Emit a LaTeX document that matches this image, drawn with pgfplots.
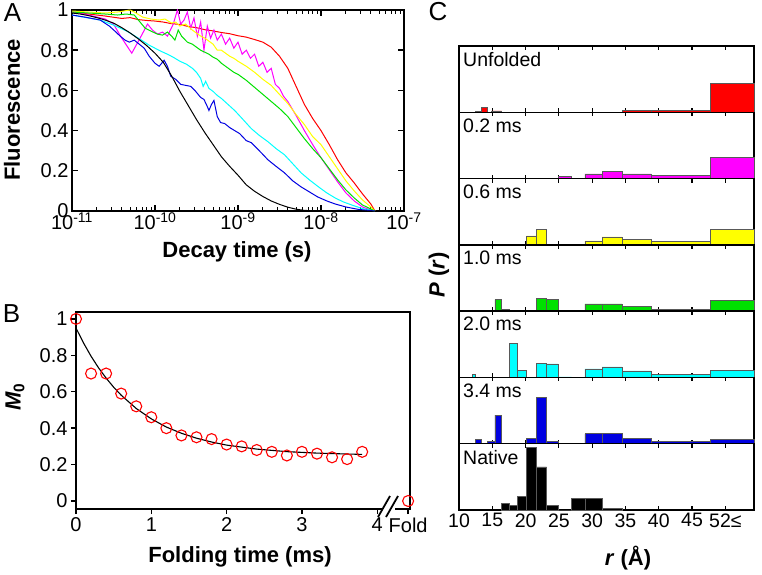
\documentclass[border=0pt]{standalone}
\usepackage{fontspec}
\setmainfont{Liberation Sans}
\usepackage{pgfplots}
\pgfplotsset{compat=1.18}

\definecolor{cRed}{RGB}{255,0,0}
\definecolor{cMag}{RGB}{255,0,255}
\definecolor{cYel}{RGB}{255,255,0}
\definecolor{cGrn}{RGB}{0,225,0}
\definecolor{cCyn}{RGB}{0,255,255}
\definecolor{cBlu}{RGB}{0,0,225}

\pgfplotsset{
  cpanel/.style={
    scale only axis, anchor=south west, width=295pt, height=66.29pt,
    xmin=10, xmax=54.3, ymin=0, ymax=1,
    xtick={10,15,...,50}, xticklabels={}, ytick=\empty,
    axis line style={line width=1.4pt},
    major tick length=4pt, tick style={black, line width=1.2pt},
    tick label style={font=\fontsize{19.5}{21}\selectfont},
    clip=false,
  },
  cbar/.style={ybar interval, fill=#1, draw=black!65, line width=0.6pt},
}
\newcommand{\plab}[1]{\node[anchor=north west, inner sep=0pt,
  font=\fontsize{19.5}{21}\selectfont] at (rel axis cs:0,1) [xshift=4pt, yshift=-6pt] {#1};}

\begin{document}
\begin{tikzpicture}

%% ---------------- panel A : decay curves (x = log10 t) ----------------
\begin{axis}[
  at={(72pt,363pt)}, anchor=south west, scale only axis,
  width=332pt, height=201pt,
  xmin=-11, xmax=-7, ymin=0, ymax=1,
  xtick={-11,-10,-9,-8,-7},
  xticklabels={10\textsuperscript{-11},10\textsuperscript{-10},10\textsuperscript{-9},10\textsuperscript{-8},10\textsuperscript{-7}},
  minor xtick={-10.699,-10.523,-10.398,-10.301,-10.222,-10.155,-10.097,-10.046,
    -9.699,-9.523,-9.398,-9.301,-9.222,-9.155,-9.097,-9.046,
    -8.699,-8.523,-8.398,-8.301,-8.222,-8.155,-8.097,-8.046,
    -7.699,-7.523,-7.398,-7.301,-7.222,-7.155,-7.097,-7.046},
  ytick={0,0.2,0.4,0.6,0.8,1},
  yticklabels={0,0.2,0.4,0.6,0.8,1},
  axis line style={line width=2pt},
  major tick length=6pt, minor tick length=4pt,
  tick style={black, line width=1.4pt}, minor tick style={line width=1pt},
  tick label style={font=\fontsize{20}{22}\selectfont},
  xticklabel style={yshift=2pt},
  every axis plot/.append style={line width=1pt},
]
\addplot[cRed] coordinates {
 (-11,0.99)(-10.8,0.98)(-10.6,0.97)(-10.4,0.958)(-10.3,0.962)(-10.2,0.952)(-10.1,0.948)
 (-10.0,0.945)(-9.9,0.94)(-9.8,0.932)(-9.7,0.928)(-9.6,0.918)(-9.5,0.912)(-9.4,0.902)
 (-9.3,0.896)(-9.2,0.888)(-9.1,0.882)(-9.0,0.872)(-8.9,0.865)(-8.8,0.853)(-8.7,0.84)
 (-8.6,0.815)(-8.5,0.77)(-8.4,0.71)(-8.3,0.62)(-8.2,0.53)(-8.1,0.46)(-8.0,0.40)
 (-7.9,0.33)(-7.8,0.255)(-7.7,0.19)(-7.6,0.14)(-7.5,0.085)(-7.4,0.035)(-7.35,0)};
\addplot[cMag] coordinates {
 (-11,0.99)(-10.9,0.985)(-10.8,0.975)(-10.7,0.965)(-10.6,0.955)(-10.5,0.93)(-10.4,0.86)
 (-10.28,0.785)(-10.18,0.86)(-10.09,0.93)(-10.03,0.90)(-9.97,0.88)(-9.91,0.89)(-9.85,0.87)
 (-9.78,0.93)(-9.73,1.0)(-9.69,0.93)(-9.65,0.95)(-9.61,0.99)(-9.57,0.91)(-9.53,0.96)
 (-9.49,0.87)(-9.45,0.94)(-9.41,0.80)(-9.37,0.92)(-9.33,0.86)(-9.29,0.90)(-9.25,0.85)
 (-9.2,0.88)(-9.15,0.83)(-9.1,0.86)(-9.05,0.81)(-9.0,0.84)(-8.95,0.78)(-8.9,0.80)
 (-8.85,0.76)(-8.8,0.78)(-8.75,0.72)(-8.7,0.74)(-8.65,0.69)(-8.6,0.71)(-8.55,0.63)
 (-8.5,0.61)(-8.45,0.57)(-8.4,0.545)(-8.35,0.51)(-8.3,0.475)(-8.2,0.40)(-8.1,0.33)
 (-8.0,0.265)(-7.9,0.205)(-7.8,0.145)(-7.7,0.09)(-7.6,0.05)(-7.5,0.02)(-7.4,0.005)(-7.35,0)};
\addplot[cYel] coordinates {
 (-11,0.995)(-10.8,0.99)(-10.6,0.985)(-10.45,0.99)(-10.3,1.0)(-10.25,0.99)(-10.15,0.965)
 (-10.05,0.955)(-9.95,0.95)(-9.88,0.955)(-9.8,0.935)(-9.75,0.94)(-9.7,0.92)(-9.63,0.93)
 (-9.55,0.90)(-9.5,0.885)(-9.45,0.87)(-9.4,0.86)(-9.35,0.845)(-9.3,0.83)(-9.25,0.80)
 (-9.2,0.80)(-9.15,0.785)(-9.1,0.77)(-9.05,0.76)(-9.0,0.745)(-8.9,0.72)(-8.8,0.69)
 (-8.7,0.655)(-8.6,0.625)(-8.5,0.58)(-8.4,0.535)(-8.3,0.48)(-8.2,0.43)(-8.1,0.37)
 (-8.0,0.33)(-7.9,0.27)(-7.8,0.21)(-7.7,0.15)(-7.6,0.10)(-7.5,0.055)(-7.4,0.02)(-7.35,0)};
\addplot[cGrn] coordinates {
 (-11,0.99)(-10.8,0.985)(-10.6,0.98)(-10.45,0.975)(-10.35,0.98)(-10.25,0.975)(-10.2,0.95)
 (-10.12,0.91)(-10.05,0.895)(-9.97,0.88)(-9.91,0.875)(-9.85,0.89)(-9.8,0.87)(-9.76,0.85)
 (-9.72,0.90)(-9.68,0.87)(-9.61,0.84)(-9.55,0.83)(-9.5,0.815)(-9.45,0.80)(-9.4,0.79)
 (-9.35,0.78)(-9.3,0.765)(-9.25,0.755)(-9.2,0.735)(-9.15,0.72)(-9.1,0.705)(-9.05,0.69)
 (-9.0,0.68)(-8.9,0.65)(-8.8,0.615)(-8.7,0.58)(-8.6,0.545)(-8.5,0.51)(-8.4,0.47)
 (-8.3,0.415)(-8.2,0.36)(-8.1,0.31)(-8.0,0.265)(-7.9,0.21)(-7.8,0.155)(-7.7,0.105)
 (-7.6,0.065)(-7.5,0.03)(-7.4,0.01)(-7.35,0)};
\addplot[cCyn] coordinates {
 (-11,0.975)(-10.8,0.96)(-10.66,0.95)(-10.5,0.925)(-10.34,0.895)(-10.2,0.86)(-10.07,0.825)
 (-10.0,0.81)(-9.93,0.795)(-9.85,0.78)(-9.78,0.765)(-9.7,0.745)(-9.62,0.73)(-9.55,0.71)
 (-9.5,0.69)(-9.45,0.66)(-9.42,0.62)(-9.39,0.645)(-9.35,0.61)(-9.3,0.595)(-9.25,0.575)
 (-9.2,0.56)(-9.12,0.53)(-9.04,0.50)(-8.95,0.46)(-8.84,0.41)(-8.74,0.375)(-8.64,0.345)
 (-8.54,0.31)(-8.44,0.28)(-8.34,0.235)(-8.24,0.19)(-8.14,0.155)(-8.03,0.12)(-7.93,0.09)
 (-7.83,0.065)(-7.73,0.045)(-7.63,0.03)(-7.5,0.012)(-7.35,0)};
\addplot[cBlu] coordinates {
 (-11,0.975)(-10.85,0.965)(-10.66,0.95)(-10.55,0.92)(-10.47,0.89)(-10.42,0.87)(-10.36,0.85)
 (-10.31,0.84)(-10.25,0.85)(-10.19,0.83)(-10.13,0.81)(-10.07,0.77)(-10.0,0.735)(-9.95,0.72)
 (-9.89,0.75)(-9.85,0.72)(-9.81,0.67)(-9.75,0.655)(-9.69,0.63)(-9.63,0.625)(-9.57,0.62)
 (-9.52,0.60)(-9.48,0.58)(-9.45,0.565)(-9.41,0.555)(-9.37,0.52)(-9.35,0.50)(-9.32,0.53)
 (-9.29,0.55)(-9.25,0.47)(-9.21,0.44)(-9.16,0.435)(-9.1,0.415)(-9.04,0.40)(-8.98,0.385)
 (-8.9,0.35)(-8.84,0.34)(-8.78,0.315)(-8.72,0.29)(-8.64,0.255)(-8.55,0.225)(-8.44,0.19)
 (-8.34,0.15)(-8.24,0.12)(-8.14,0.095)(-8.04,0.07)(-7.93,0.05)(-7.83,0.035)(-7.7,0.02)
 (-7.55,0.008)(-7.35,0)};
\addplot[black] coordinates {
 (-11,0.985)(-10.9,0.98)(-10.8,0.972)(-10.7,0.962)(-10.6,0.95)(-10.5,0.935)(-10.4,0.912)
 (-10.3,0.886)(-10.2,0.856)(-10.1,0.823)(-10.0,0.785)(-9.9,0.74)(-9.8,0.672)(-9.7,0.595)
 (-9.6,0.525)(-9.5,0.455)(-9.4,0.39)(-9.3,0.33)(-9.2,0.27)(-9.1,0.222)(-9.0,0.178)
 (-8.9,0.13)(-8.8,0.098)(-8.7,0.072)(-8.6,0.05)(-8.5,0.033)(-8.4,0.019)(-8.3,0.009)
 (-8.2,0.003)(-8.0,0)(-7.35,0)};
\end{axis}

%% ---------------- panel B : M0 vs folding time ----------------
\begin{axis}[
  at={(76pt,65pt)}, anchor=south west, scale only axis,
  width=334pt, height=197pt,
  xmin=0, xmax=4.435, ymin=-0.044, ymax=1.038,
  xtick={0,1,2,3,4,4.41}, xticklabels={0,1,2,3,4,Fold},
  ytick={0,0.2,0.4,0.6,0.8,1},
  yticklabels={0,0.2,0.4,0.6,0.8,1},
  tick align=outside, tick pos=left,
  axis line style={line width=2pt},
  major tick length=5pt, tick style={black, line width=1.4pt},
  tick label style={font=\fontsize{20}{22}\selectfont},
  clip=false,
]
\addplot[black, line width=1.1pt] coordinates {
 (0,0.95)(0.1,0.868)(0.2,0.795)(0.3,0.731)(0.4,0.675)(0.5,0.625)(0.6,0.581)(0.8,0.508)
 (1.0,0.451)(1.2,0.406)(1.4,0.372)(1.6,0.345)(1.8,0.324)(2.0,0.307)(2.4,0.285)
 (2.8,0.271)(3.2,0.263)(3.6,0.258)(3.8,0.256)};
\addplot[only marks, mark=o, mark size=5.5pt, red, mark options={line width=1.1pt}] coordinates {
 (0,1)(0.2,0.70)(0.4,0.70)(0.6,0.59)(0.8,0.52)(1.0,0.46)(1.2,0.40)(1.4,0.36)(1.6,0.35)
 (1.8,0.34)(2.0,0.31)(2.2,0.30)(2.4,0.28)(2.6,0.27)(2.8,0.25)(3.0,0.27)(3.2,0.26)
 (3.4,0.24)(3.6,0.23)(3.8,0.27)(4.41,0)};
\end{axis}
% axis break on the bottom line of panel B
\fill[white] (382pt,62pt) rectangle (395pt,68pt);
\draw[line width=1.8pt] (378pt,57pt) -- (390pt,78pt);
\draw[line width=1.8pt] (386pt,57pt) -- (398pt,78pt);

%% ---------------- panel C : distance distributions ----------------
\begin{axis}[cpanel, at={(459pt,461.71pt)}]
\addplot[cbar=cRed] coordinates {(12.5,0.008)(13.4,0.07)(14.25,0)(14.9,0.02)(16.4,0)
 (34.5,0.03)(38.9,0.03)(47.8,0.44)(54.3,0)};
\plab{Unfolded}
\end{axis}
\begin{axis}[cpanel, at={(459pt,395.43pt)}]
\addplot[cbar=cMag] coordinates {(24.9,0.03)(26.9,0.008)(28.9,0.07)(31.5,0.11)
 (34.5,0.07)(38.9,0.045)(47.8,0.32)(54.3,0)};
\plab{0.2 ms}
\end{axis}
\begin{axis}[cpanel, at={(459pt,329.14pt)}]
\addplot[cbar=cYel] coordinates {(20.15,0.135)(21.65,0.235)(23.15,0.008)(24.9,0)
 (28.9,0.06)(31.5,0.12)(34.5,0.085)(38.9,0.05)(47.8,0.23)(54.3,0)};
\plab{0.6 ms}
\end{axis}
\begin{axis}[cpanel, at={(459pt,262.86pt)}]
\addplot[cbar=cGrn] coordinates {(15.4,0.175)(16.4,0.03)(17.55,0)(21.65,0.19)(23.15,0.175)
 (24.9,0)(26.9,0.008)(28.9,0.11)(31.5,0.11)(34.5,0.07)(38.9,0.03)(47.8,0.16)(54.3,0)};
\plab{1.0 ms}
\end{axis}
\begin{axis}[cpanel, at={(459pt,196.57pt)}]
\addplot[cbar=cCyn] coordinates {(12.0,0.05)(12.5,0)(17.55,0.51)(18.8,0.11)(20.15,0)
 (21.65,0.215)(23.15,0.205)(24.9,0.008)(26.9,0)(28.9,0.13)(31.5,0.16)(34.5,0.10)
 (38.9,0.04)(47.8,0.11)(54.3,0)};
\plab{2.0 ms}
\end{axis}
\begin{axis}[cpanel, at={(459pt,130.29pt)}]
\addplot[cbar=cBlu] coordinates {(12.5,0.07)(13.4,0)(14.25,0.03)(15.4,0.43)(16.4,0)
 (20.15,0.08)(21.65,0.70)(23.15,0.035)(24.9,0)(28.9,0.15)(31.5,0.16)(34.5,0.08)
 (38.9,0.03)(47.8,0.07)(54.3,0)};
\plab{3.4 ms}
\end{axis}
\begin{axis}[cpanel, at={(459pt,64pt)},
  xticklabels={10,15,20,25,30,35,40,45,52≤}]
\addplot[cbar=black] coordinates {(16.4,0.10)(17.55,0.065)(18.8,0.20)(20.15,0.94)
 (21.65,0.65)(23.15,0.065)(24.9,0)(26.9,0.18)(28.9,0.18)(31.5,0.02)(34.5,0)};
\plab{Native}
\end{axis}

%% ---------------- labels ----------------
\node[font=\fontsize{26}{28}\selectfont] at (12.5pt,561.5pt) {A};
\node[font=\fontsize{26}{28}\selectfont] at (11.5pt,260.5pt) {B};
\node[font=\fontsize{26}{28}\selectfont] at (438pt,562pt) {C};
\node[rotate=90, font=\bfseries\fontsize{22}{24}\selectfont] at (12pt,464pt) {Fluorescence};
\node[font=\bfseries\fontsize{22}{24}\selectfont] at (237pt,322pt) {Decay time (s)};
\node[rotate=90, font=\bfseries\fontsize{22}{24}\selectfont] at (15pt,177pt) {\textit{M}\textsubscript{0}};
\node[font=\bfseries\fontsize{22}{24}\selectfont] at (240pt,17pt) {Folding time (ms)};
\node[rotate=90, font=\bfseries\fontsize{22}{24}\selectfont] at (439pt,299pt) {\textit{P} (\textit{r})};
\node[font=\bfseries\fontsize{22}{24}\selectfont] at (628pt,16pt) {\textit{r} (Å)};

\pgfresetboundingbox
\path[use as bounding box] (0pt,0pt) rectangle (762pt,574pt);
\end{tikzpicture}
\end{document}
